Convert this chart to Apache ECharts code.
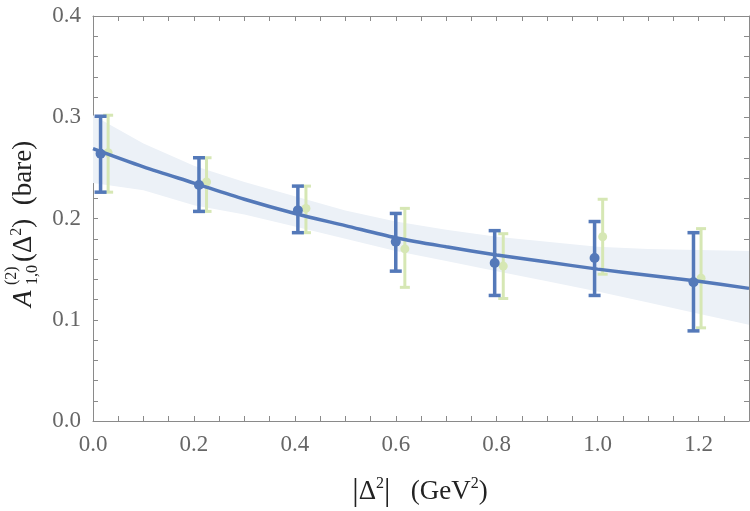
<!DOCTYPE html>
<html>
<head>
<meta charset="utf-8">
<script src="https://cdn.jsdelivr.net/npm/echarts@6/dist/echarts.min.js"></script>
<style>
  html, body { margin: 0; padding: 0; background: #fff; }
  #main { width: 750px; height: 511px; }
</style>
</head>
<body>
<div id="main"></div>
<script>
// blue data points (|Delta^2|, value, lower, upper)
var tBlue  = [0.015, 0.21, 0.406, 0.6, 0.796, 0.994, 1.19];
var yBlue  = [0.264, 0.233, 0.208, 0.177, 0.156, 0.161, 0.137];
var loBlue = [0.226, 0.207, 0.186, 0.148, 0.124, 0.124, 0.089];
var hiBlue = [0.301, 0.260, 0.232, 0.205, 0.188, 0.197, 0.186];

// faded green data points
var tGreen  = [0.03, 0.225, 0.422, 0.618, 0.813, 1.01, 1.205];
var yGreen  = [0.265, 0.236, 0.210, 0.170, 0.153, 0.182, 0.141];
var loGreen = [0.226, 0.207, 0.186, 0.132, 0.121, 0.145, 0.092];
var hiGreen = [0.302, 0.260, 0.232, 0.210, 0.185, 0.219, 0.190];

// fit curve and its band
var fitT   = [0, 0.1, 0.2, 0.3, 0.4, 0.5, 0.6, 0.7, 0.8, 0.9, 1.0, 1.1, 1.2, 1.3];
var fitY   = [0.269, 0.251, 0.235, 0.219, 0.205, 0.193, 0.181, 0.172, 0.164, 0.157, 0.150, 0.144, 0.138, 0.131];
var bandLo = [0.235, 0.228, 0.213, 0.204, 0.192, 0.180, 0.168, 0.158, 0.148, 0.138, 0.128, 0.117, 0.106, 0.095];
var bandHi = [0.302, 0.274, 0.252, 0.236, 0.222, 0.208, 0.197, 0.189, 0.182, 0.177, 0.172, 0.170, 0.169, 0.168];

var BLUE = '#5479b9';
var GREEN = '#d6e7b4';
var BAND = '#ecf1f7';
var AXIS = '#8a8a8a';
var FONT = '"Liberation Serif", serif';

var myChart = echarts.init(document.getElementById('main'));

function errBars(color, lw, cap, r) {
  return function (params, api) {
    var x = api.value(0);
    var p = api.coord([x, api.value(1)]);
    var pl = api.coord([x, api.value(2)]);
    var ph = api.coord([x, api.value(3)]);
    var st = { stroke: color, lineWidth: lw };
    return {
      type: 'group',
      children: [
        { type: 'line', shape: { x1: p[0], y1: pl[1], x2: p[0], y2: ph[1] }, style: st },
        { type: 'line', shape: { x1: p[0] - cap, y1: pl[1], x2: p[0] + cap, y2: pl[1] }, style: st },
        { type: 'line', shape: { x1: p[0] - cap, y1: ph[1], x2: p[0] + cap, y2: ph[1] }, style: st },
        { type: 'circle', shape: { cx: p[0], cy: p[1], r: r }, style: { fill: color } }
      ]
    };
  };
}

// the band: one polygon, lower edge left to right then upper edge back
function bandItem(params, api) {
  if (params.dataIndex !== 0) return null;
  var pts = [];
  for (var i = 0; i < fitT.length; i++) pts.push(api.coord([fitT[i], bandLo[i]]));
  for (var j = fitT.length - 1; j >= 0; j--) pts.push(api.coord([fitT[j], bandHi[j]]));
  return { type: 'polygon', shape: { points: pts }, style: { fill: BAND } };
}

function xLabel(v) {
  var r = Math.round(v * 5);
  return Math.abs(v * 5 - r) < 1e-6 ? v.toFixed(1) : '';
}
function yLabel(v) {
  var r = Math.round(v * 10);
  return Math.abs(v * 10 - r) < 1e-6 ? v.toFixed(1) : '';
}

var tickStyle = { inside: true, length: 5, lineStyle: { color: AXIS, width: 1 } };
var lineStyle = { show: true, onZero: false, lineStyle: { color: AXIS, width: 1 } };
var labelStyle = { color: '#666', fontFamily: FONT, fontSize: 23, margin: 12 };

option = {
  animation: false,
  grid: { left: 93, right: 1, top: 16, bottom: 90 },
  xAxis: [{
    type: 'value', min: 0, max: 1.3, interval: 0.05, position: 'bottom',
    axisLine: lineStyle, axisTick: tickStyle, splitLine: { show: false },
    axisLabel: Object.assign({ formatter: xLabel, showMaxLabel: false }, labelStyle)
  }, {
    type: 'value', min: 0, max: 1.3, interval: 0.05, position: 'top',
    axisLine: lineStyle, axisTick: tickStyle, splitLine: { show: false },
    axisLabel: { show: false }
  }],
  yAxis: [{
    type: 'value', min: 0, max: 0.4, interval: 0.02, position: 'left',
    axisLine: lineStyle, axisTick: tickStyle, splitLine: { show: false },
    axisLabel: Object.assign({ formatter: yLabel }, labelStyle)
  }, {
    type: 'value', min: 0, max: 0.4, interval: 0.02, position: 'right',
    axisLine: lineStyle, axisTick: tickStyle, splitLine: { show: false },
    axisLabel: { show: false }
  }],
  graphic: [{
    type: 'text', x: 420, y: 492,
    style: {
      text: '{b||}{n|Δ}{s|2}{b||}{n|   (GeV}{s|2}{n|)}',
      align: 'center', verticalAlign: 'middle',
      rich: {
        n: { fontFamily: FONT, fontSize: 27, fill: '#222', lineHeight: 32 },
        b: { fontFamily: FONT, fontSize: 32, fill: '#222', lineHeight: 32 },
        s: { fontFamily: FONT, fontSize: 16, fill: '#222', verticalAlign: 'top', lineHeight: 32 }
      }
    }
  }, {
    type: 'group', x: 24, y: 218, rotation: Math.PI / 2,
    children: [
      { type: 'text', x: -89, y: 0, style: { text: 'A', font: 'italic 27px ' + FONT, fill: '#222', align: 'left', verticalAlign: 'middle' } },
      { type: 'text', x: -67, y: -12, style: { text: '(2)', font: '16px ' + FONT, fill: '#222', align: 'left', verticalAlign: 'middle' } },
      { type: 'text', x: -67, y: 9, style: { text: '1,0', font: '16px ' + FONT, fill: '#222', align: 'left', verticalAlign: 'middle' } },
      { type: 'text', x: -44, y: 0, style: {
          text: '{n|(Δ}{s|2}{n|)  (bare)}', align: 'left', verticalAlign: 'middle',
          rich: {
            n: { fontFamily: FONT, fontSize: 27, fill: '#222', lineHeight: 30 },
            s: { fontFamily: FONT, fontSize: 16, fill: '#222', verticalAlign: 'top', lineHeight: 30 }
          }
      } }
    ]
  }],
  series: [{
    name: 'band', type: 'custom', renderItem: bandItem,
    encode: { x: 0, y: 1 },
    data: fitT.map(function (t, i) { return [t, bandLo[i], bandHi[i]]; }),
    z: 1
  }, {
    name: 'green', type: 'custom', renderItem: errBars(GREEN, 3, 5, 4.5),
    encode: { x: 0, y: 1 },
    data: tGreen.map(function (t, i) { return [t, yGreen[i], loGreen[i], hiGreen[i]]; }),
    z: 2
  }, {
    name: 'fit', type: 'line', smooth: 0.3, symbol: 'none',
    lineStyle: { color: BLUE, width: 3.5 },
    data: fitT.map(function (t, i) { return [t, fitY[i]]; }),
    z: 3
  }, {
    name: 'blue', type: 'custom', renderItem: errBars(BLUE, 3.5, 6, 5),
    encode: { x: 0, y: 1 },
    data: tBlue.map(function (t, i) { return [t, yBlue[i], loBlue[i], hiBlue[i]]; }),
    z: 4
  }]
};
myChart.setOption(option);
</script>
</body>
</html>
